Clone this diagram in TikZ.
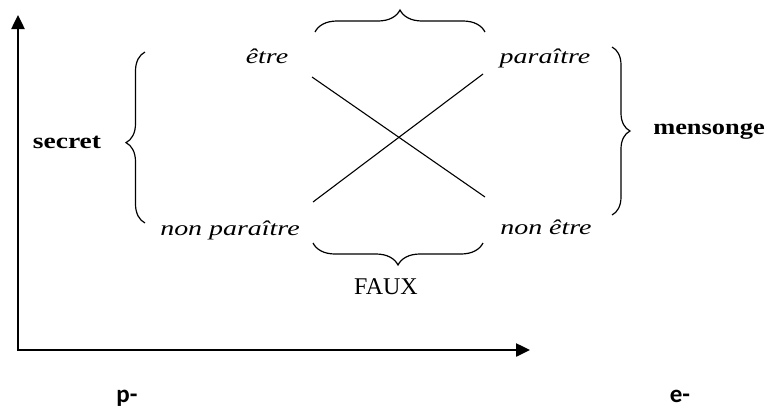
\documentclass[tikz,border=0pt]{standalone}
\usepackage{graphicx}
\usepackage{fontspec}
\setmainfont{Liberation Serif}
\newfontfamily\calib{Carlito}
\usetikzlibrary{decorations.pathreplacing,arrows.meta}
\newcommand{\widetxt}[2]{\scalebox{#1}[1]{#2}}
\tikzset{
  lab/.style={inner sep=0pt, anchor=base, font=\fontsize{21}{21}\selectfont\itshape},
  boldlab/.style={inner sep=0pt, anchor=base, font=\fontsize{22}{22}\selectfont\bfseries},
  faux/.style={inner sep=0pt, anchor=base, font=\fontsize{24}{24}\selectfont},
  axlab/.style={inner sep=0pt, anchor=base, font=\calib\fontsize{25}{25}\selectfont\bfseries},
  axis/.style={line width=2.5pt, -{Triangle[length=14pt,width=13pt]}},
  brc/.style={line width=1.2pt, decorate},
  xline/.style={line width=1.1pt}
}
\begin{document}
\begin{tikzpicture}[x=1pt,y=-1pt]
\useasboundingbox (0,0) rectangle (769,410);
% axes
\coordinate (O) at (18,350);
\coordinate (Ytop) at (18,15);
\coordinate (Xend) at (530,350);
\draw[axis] (O) -- (Ytop);
\draw[axis] ([xshift=-1.25pt]O) -- (Xend);
% labels
\node[lab] (etre) at (267,63) {\widetxt{1.33}{être}};
\node[lab] (paraitre) at (545,63) {\widetxt{1.33}{paraître}};
\node[lab] (nonparaitre) at (230,235) {\widetxt{1.33}{non paraître}};
\node[lab] (nonetre) at (546,234) {\widetxt{1.33}{non être}};
\node[boldlab] (secret) at (67,148) {\widetxt{1.25}{secret}};
\node[boldlab] (mensonge) at (709,134) {\widetxt{1.2}{mensonge}};
\node[faux] (FAUX) at (386,294) {FAUX};
\node[axlab] (p) at (127,402) {p-};
\node[axlab] (e) at (680,402) {e-};
% cross
\coordinate (a1) at (312,77);
\coordinate (a2) at (485,197);
\coordinate (b1) at (313,202);
\coordinate (b2) at (483,74);
\draw[xline] (a1) -- (a2);
\draw[xline] (b1) -- (b2);
% braces
\draw[brc, decoration={brace, amplitude=19pt, aspect=0.47}] (145,223) -- (145,52);
\draw[brc, decoration={brace, amplitude=22pt}] (315,32) -- (485,32);
\draw[brc, decoration={brace, amplitude=18pt}] (612,47) -- (612,215);
\draw[brc, decoration={brace, amplitude=22pt}] (483,243) -- (313,243);
\end{tikzpicture}
\end{document}
